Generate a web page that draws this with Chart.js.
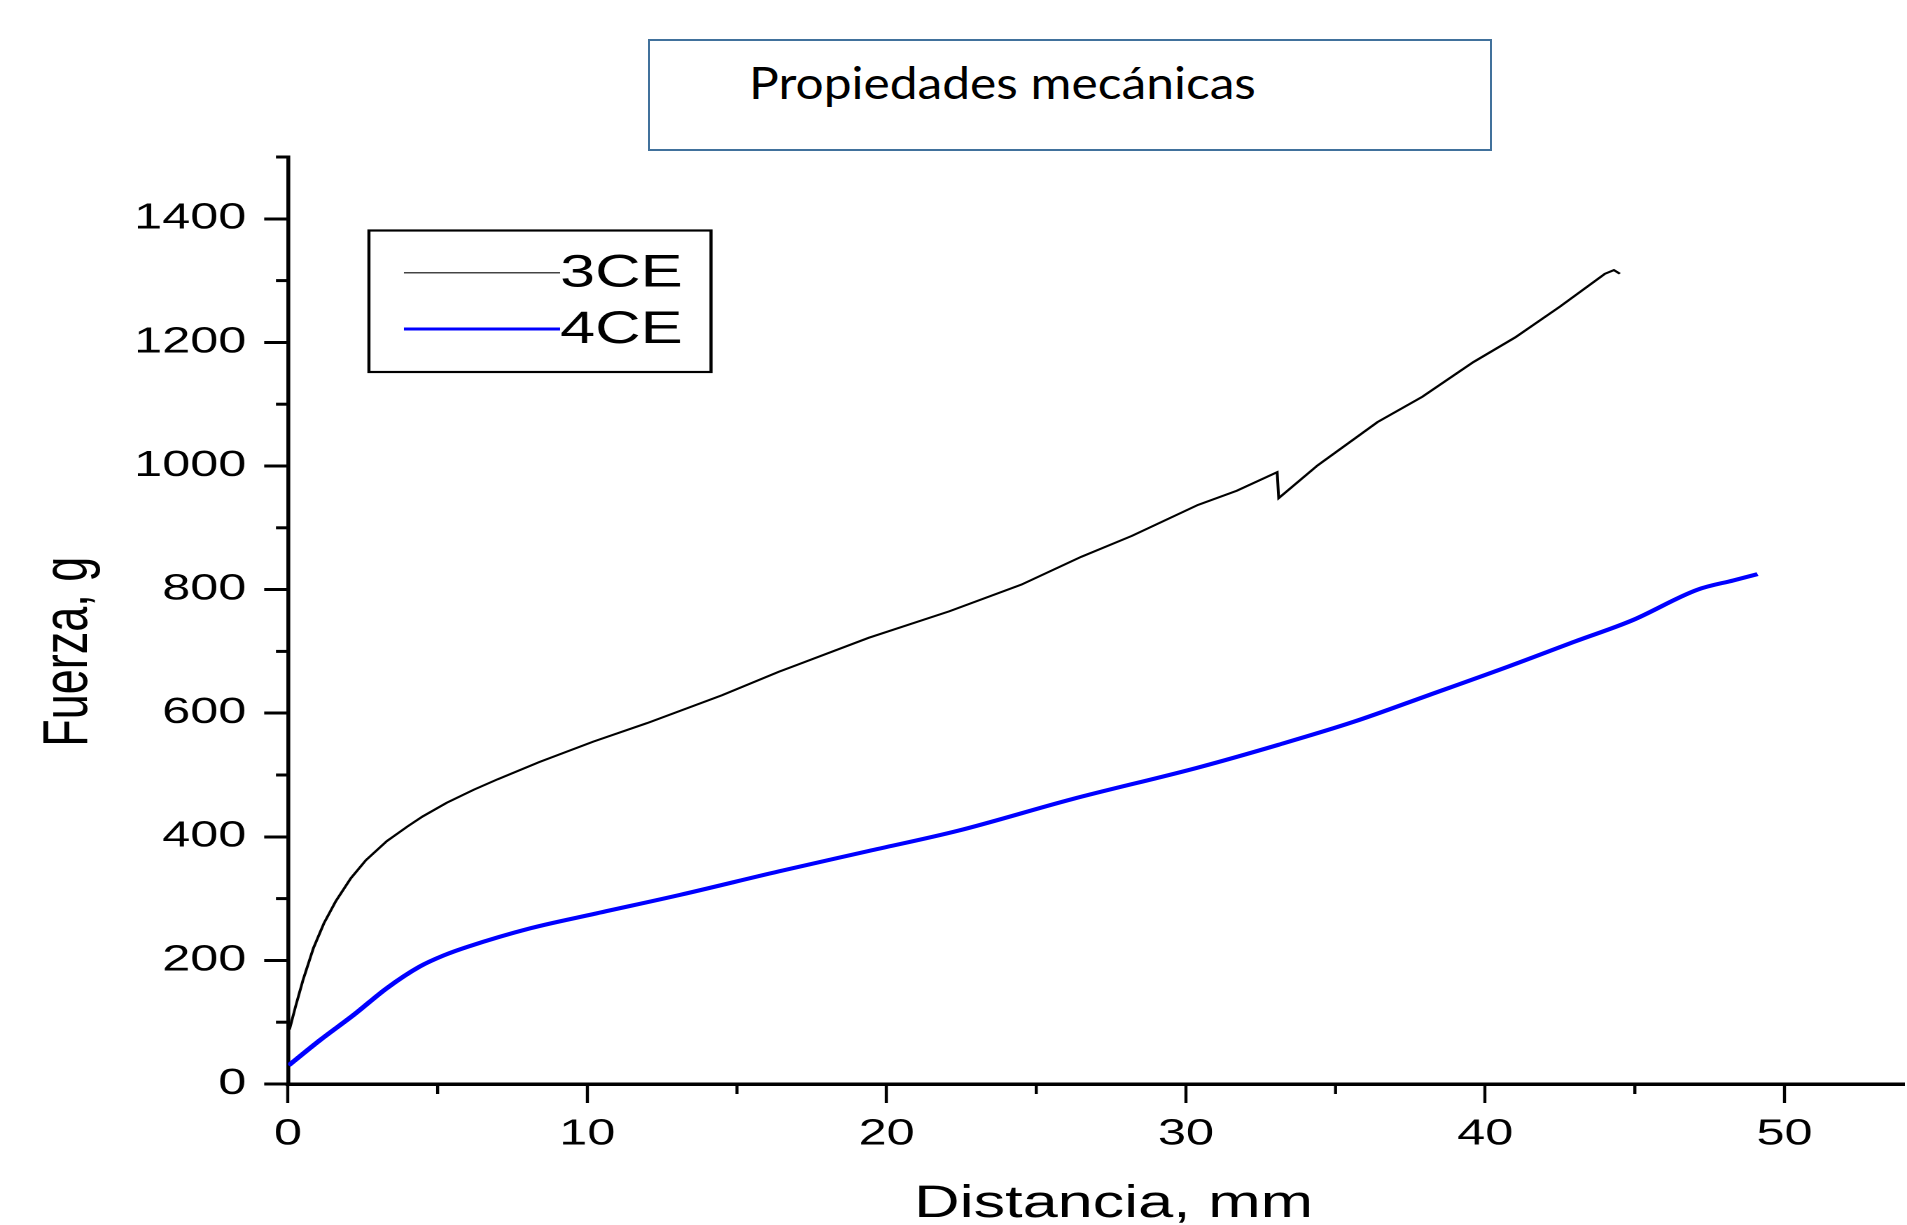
<!doctype html>
<html lang="es">
  <head>
    <meta charset="utf-8">
    <title>Propiedades mecánicas</title>
    <script src="https://cdn.jsdelivr.net/npm/chart.js@4.4.0/dist/chart.umd.min.js"></script>
    <style>
      html, body { margin: 0; padding: 0; background: #fff; }
      body { width: 1907px; height: 1225px; position: relative; overflow: hidden; }
      /* the original plot is stretched sideways, so the chart is laid out narrow and scaled in x */
      #stretch {
        position: absolute; left: 0; top: 0;
        width: 1362px; height: 1225px;
        transform: scaleX(1.40015);
        transform-origin: 0 0;
      }
      #title-box {
        position: absolute; left: 648px; top: 39px;
        width: 844px; height: 112px;
        box-sizing: border-box;
        border: 2px solid #41719c;
        padding: 19px 0 0 99px;
        font-family: Lato, "Open Sans", sans-serif;
        font-size: 44px; line-height: 44px;
        color: #000;
        white-space: nowrap;
      }
      #title-box span {
        display: inline-block;
        transform: scaleX(1.13);
        transform-origin: 0 0;
      }
    </style>
  </head>
  <body>
    <div id="title-box"><span id="title-text"></span></div>
    <div id="stretch">
      <canvas id="fuerzaChart"></canvas>
    </div>

<script>
const chartTitle = 'Propiedades mecánicas';
const xTitle = 'Distancia, mm';
const yTitle = 'Fuerza, g';
const seriesNames = ['3CE', '4CE'];
const seriesColors = ['#000000', '#0000ff'];

// 3CE
const dist3 = [0.05, 0.25, 0.5, 0.85, 1.2, 1.6, 2.1, 2.6, 3.3, 4.0, 4.5, 5.3, 6.2, 7.0, 8.4, 10.2, 12.0, 14.5, 16.4, 17.0, 19.4, 22.1, 24.5, 26.5, 28.2, 30.4, 31.7, 33.05, 33.1, 34.4, 36.4, 37.9, 39.6, 41.0, 42.5, 44.0, 44.3, 44.5];
const force3 = [88, 125, 168, 220, 260, 296, 333, 362, 393, 417, 433, 455, 476, 493, 521, 554, 584, 629, 667, 678, 722, 765, 808, 853, 887, 937, 960, 990, 948, 1001, 1071, 1112, 1168, 1208, 1258, 1311, 1317, 1311];

// 4CE
const dist4 = [0.02, 1.07, 2.2, 3.3, 4.4, 5.2, 6.0, 8.1, 10.3, 13.1, 16.4, 19.4, 22.4, 26.2, 30.4, 33.1, 35.6, 38.1, 40.8, 43.0, 44.9, 47.1, 48.3, 49.1];
const force4 = [30, 71, 112, 155, 190, 208, 222, 252, 276, 306, 344, 377, 410, 461, 512, 549, 586, 629, 676, 716, 750, 800, 815, 825];

const xTicks = { min: 0, max: 54, step: 10, minorStep: 5 };
const yTicks = { min: 0, max: 1500, step: 200, minorStep: 100 };

const fontFamily = "'Liberation Sans', Arial, sans-serif";

document.getElementById('title-text').textContent = chartTitle;

function toPoints(xs, ys) {
  return xs.map((x, i) => ({ x: x, y: ys[i] }));
}

// short unlabeled ticks between the labeled ones
const minorTicks = {
  id: 'minorTicks',
  afterDraw(chart) {
    const ctx = chart.ctx;
    const x = chart.scales.x;
    const y = chart.scales.y;
    ctx.save();
    ctx.strokeStyle = '#000';
    ctx.lineWidth = 2.2;
    for (let v = xTicks.minorStep; v < xTicks.max; v += xTicks.step) {
      const px = x.getPixelForValue(v);
      ctx.beginPath();
      ctx.moveTo(px, x.top);
      ctx.lineTo(px, x.top + 10);
      ctx.stroke();
    }
    ctx.lineWidth = 3;
    for (let v = yTicks.minorStep; v <= yTicks.max; v += yTicks.step) {
      const py = y.getPixelForValue(v);
      ctx.beginPath();
      ctx.moveTo(y.right - 8.6, py);
      ctx.lineTo(y.right, py);
      ctx.stroke();
    }
    ctx.restore();
  }
};

// boxed legend sitting inside the plot, line sample runs straight into the label
const boxLegend = {
  id: 'boxLegend',
  afterDraw(chart) {
    const ctx = chart.ctx;
    const area = chart.chartArea;
    const left = area.left + 57.8;
    const top = area.top + 73.5;
    ctx.save();
    ctx.strokeStyle = '#000';
    ctx.lineWidth = 2.2;
    ctx.strokeRect(left, top, 244.3, 141.5);
    const rows = [42.3, 98.5];
    const widths = [1.5, 3];
    ctx.font = '45px ' + fontFamily;
    ctx.textBaseline = 'middle';
    chart.data.datasets.forEach((ds, i) => {
      const ly = top + rows[i];
      ctx.strokeStyle = i === 0 ? '#444' : ds.borderColor;
      ctx.lineWidth = widths[i];
      ctx.beginPath();
      ctx.moveTo(left + 25, ly);
      ctx.lineTo(left + 136.5, ly);
      ctx.stroke();
      ctx.fillStyle = '#000';
      ctx.fillText(ds.label, left + 136.5, ly + 1.5);
    });
    ctx.restore();
  }
};

const ctx = document.getElementById('fuerzaChart').getContext('2d');
const fuerzaChart = new Chart(ctx, {
  type: 'line',
  data: {
    datasets: [
      {
        label: seriesNames[0],
        data: toPoints(dist3, force3),
        borderColor: seriesColors[0],
        borderWidth: 2,
        pointRadius: 0,
        tension: 0,
        fill: false
      },
      {
        label: seriesNames[1],
        data: toPoints(dist4, force4),
        borderColor: seriesColors[1],
        borderWidth: 4,
        pointRadius: 0,
        cubicInterpolationMode: 'monotone',
        fill: false
      }
    ]
  },
  plugins: [minorTicks, boxLegend],
  options: {
    responsive: true,
    maintainAspectRatio: false,
    devicePixelRatio: 2,
    animation: false,
    layout: {
      padding: { top: 157, right: 0, bottom: 0, left: 0 }
    },
    plugins: {
      legend: { display: false },
      tooltip: { enabled: false },
      title: { display: false }
    },
    scales: {
      x: {
        type: 'linear',
        position: 'bottom',
        min: xTicks.min,
        max: xTicks.max,
        border: { color: '#000', width: 3.5 },
        grid: {
          drawOnChartArea: false,
          drawTicks: true,
          tickLength: 19,
          tickWidth: 2.2,
          tickColor: '#000'
        },
        ticks: {
          stepSize: xTicks.step,
          includeBounds: false,
          maxRotation: 0,
          autoSkip: false,
          color: '#000',
          padding: 10,
          font: { family: fontFamily, size: 36, lineHeight: 1.2 },
          callback: (v) => String(v)
        },
        title: {
          display: true,
          text: '  ' + xTitle,
          color: '#000',
          font: { family: fontFamily, size: 45, lineHeight: 0.9 },
          padding: { top: 18.3, bottom: 0 }
        }
      },
      y: {
        type: 'linear',
        min: yTicks.min,
        max: yTicks.max,
        border: { color: '#000', width: 2.8 },
        grid: {
          drawOnChartArea: false,
          drawTicks: true,
          tickLength: 17,
          tickWidth: 3,
          tickColor: '#000'
        },
        ticks: {
          stepSize: yTicks.step,
          includeBounds: false,
          color: '#000',
          padding: 12.8,
          font: { family: fontFamily, size: 36, lineHeight: 1.2 },
          callback: (v) => String(v)
        },
        title: {
          display: true,
          text: yTitle + '     ',
          color: '#000',
          font: { family: fontFamily, size: 45, lineHeight: 1.2 },
          padding: { top: 22.6, bottom: 6.4 }
        }
      }
    }
  }
});
</script>
  </body>
</html>
